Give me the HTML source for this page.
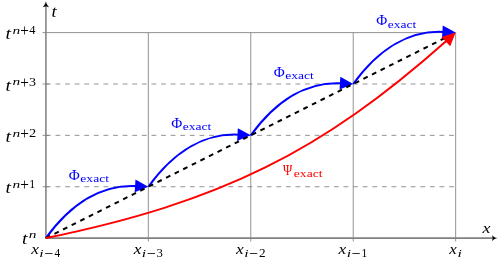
<!DOCTYPE html>
<html><head><meta charset="utf-8">
<style>
html,body{margin:0;padding:0;background:#fff;}
body{width:498px;height:264px;overflow:hidden;font-family:"Liberation Serif",serif;}
svg{display:block;will-change:transform;}
text{font-family:"Liberation Serif",serif;}
.i{font-style:italic;}
</style></head><body>
<svg width="498" height="264" viewBox="0 0 498 264">
<rect width="498" height="264" fill="#fff"/>
<g stroke="#808080" stroke-width="0.85" stroke-dasharray="4.8 4.8" fill="none">
<line x1="45.90" y1="186.72" x2="455.7" y2="186.72"/>
<line x1="45.90" y1="135.35" x2="455.7" y2="135.35"/>
<line x1="45.90" y1="83.97" x2="455.7" y2="83.97"/>
</g>
<g stroke="#808080" stroke-width="0.85" fill="none">
<line x1="42.50" y1="186.72" x2="48.90" y2="186.72"/>
<line x1="42.50" y1="135.35" x2="48.90" y2="135.35"/>
<line x1="42.50" y1="83.97" x2="48.90" y2="83.97"/>
</g>
<g stroke="#808080" stroke-width="0.85" fill="none">
<line x1="42.5" y1="32.60" x2="455.7" y2="32.60"/>
<line x1="148.34" y1="32.60" x2="148.34" y2="241.5"/>
<line x1="250.78" y1="32.60" x2="250.78" y2="241.5"/>
<line x1="353.22" y1="32.60" x2="353.22" y2="241.5"/>
<line x1="455.66" y1="32.60" x2="455.66" y2="241.5"/>
</g>
<g stroke="#808080" stroke-width="1.55" fill="none">
<line x1="45.9" y1="238.7" x2="45.9" y2="5"/>
<line x1="45.3" y1="238.1" x2="494" y2="238.1"/>
</g>
<path d="M45.9 1.6 C46.5 4 47.70 6 49.1 7.2 L45.9 6.2 L42.70 7.2 C44.1 6 45.3 4 45.9 1.6 Z" fill="#000"/>
<path d="M497.7 238.1 C495 237.5 493 236.30 491.8 234.9 L492.8 238.1 L491.8 241.30 C493 239.9 495 238.7 497.7 238.1 Z" fill="#000"/>
<g stroke="#0000ff" stroke-width="2" fill="none">
<path d="M45.90 238.10 C72.19 201.74 103.55 184.09 136.56 186.03"/>
<path d="M148.34 186.72 C174.63 150.37 205.99 132.72 239.00 134.66"/>
<path d="M250.78 135.35 C277.07 98.99 308.43 81.34 341.44 83.28"/>
<path d="M353.22 83.97 C379.51 47.62 410.87 29.97 443.88 31.91"/>
</g>
<path d="M148.34 186.72 L134.69 192.33 L135.44 179.56 Z" fill="#0000ff"/>
<path d="M250.78 135.35 L237.13 140.96 L237.88 128.18 Z" fill="#0000ff"/>
<path d="M353.22 83.97 L339.57 89.58 L340.32 76.81 Z" fill="#0000ff"/>
<path d="M455.66 32.60 L442.01 38.21 L442.76 25.43 Z" fill="#0000ff"/>
<line x1="45.9" y1="238.1" x2="447.7" y2="36.6" stroke="#000" stroke-width="2" stroke-dasharray="4.8 4.8"/>
<path d="M45.9 238.1 C221.68 201.91 321.53 151.83 446.84 40.44" stroke="#ff0000" stroke-width="2" fill="none"/>
<path d="M455.66 32.60 L450.21 46.32 L441.54 36.90 Z" fill="#ff0000"/>
<text fill="#000"><tspan x="51.49" y="17.30" font-size="16.9" font-style="italic" textLength="5.14" lengthAdjust="spacingAndGlyphs">t</tspan></text>
<text fill="#000"><tspan x="482.62" y="232.80" font-size="14.6" font-style="italic" textLength="8.01" lengthAdjust="spacingAndGlyphs">x</tspan></text>
<text fill="#000"><tspan x="5.63" y="193.32" font-size="16.9" font-style="italic" textLength="5.47" lengthAdjust="spacingAndGlyphs">t</tspan><tspan x="12.45" y="188.22" font-size="10.0" font-style="italic" textLength="7.69" lengthAdjust="spacingAndGlyphs">n</tspan><tspan x="20.14" y="190.40" font-size="16.5" textLength="8.60" lengthAdjust="spacingAndGlyphs">+</tspan><tspan x="29.35" y="188.32" font-size="11.6" textLength="5.97" lengthAdjust="spacingAndGlyphs">1</tspan></text>
<text fill="#000"><tspan x="5.63" y="141.95" font-size="16.9" font-style="italic" textLength="5.47" lengthAdjust="spacingAndGlyphs">t</tspan><tspan x="12.45" y="136.85" font-size="10.0" font-style="italic" textLength="7.69" lengthAdjust="spacingAndGlyphs">n</tspan><tspan x="20.14" y="139.03" font-size="16.5" textLength="8.60" lengthAdjust="spacingAndGlyphs">+</tspan><tspan x="28.96" y="136.95" font-size="11.6" textLength="7.23" lengthAdjust="spacingAndGlyphs">2</tspan></text>
<text fill="#000"><tspan x="5.63" y="90.57" font-size="16.9" font-style="italic" textLength="5.47" lengthAdjust="spacingAndGlyphs">t</tspan><tspan x="12.45" y="85.47" font-size="10.0" font-style="italic" textLength="7.69" lengthAdjust="spacingAndGlyphs">n</tspan><tspan x="20.14" y="87.65" font-size="16.5" textLength="8.60" lengthAdjust="spacingAndGlyphs">+</tspan><tspan x="28.93" y="85.57" font-size="11.6" textLength="7.02" lengthAdjust="spacingAndGlyphs">3</tspan></text>
<text fill="#000"><tspan x="5.63" y="39.20" font-size="16.9" font-style="italic" textLength="5.47" lengthAdjust="spacingAndGlyphs">t</tspan><tspan x="12.45" y="34.10" font-size="10.0" font-style="italic" textLength="7.69" lengthAdjust="spacingAndGlyphs">n</tspan><tspan x="20.14" y="36.28" font-size="16.5" textLength="8.60" lengthAdjust="spacingAndGlyphs">+</tspan><tspan x="29.36" y="34.20" font-size="11.6" textLength="6.24" lengthAdjust="spacingAndGlyphs">4</tspan></text>
<text fill="#000"><tspan x="22.03" y="243.50" font-size="16.9" font-style="italic" textLength="5.47" lengthAdjust="spacingAndGlyphs">t</tspan><tspan x="28.85" y="238.00" font-size="10.0" font-style="italic" textLength="7.69" lengthAdjust="spacingAndGlyphs">n</tspan></text>
<text fill="#000"><tspan x="31.21" y="253.70" font-size="14.6" font-style="italic" textLength="7.72" lengthAdjust="spacingAndGlyphs">x</tspan><tspan x="39.33" y="256.70" font-size="11.2" font-style="italic" textLength="4.34" lengthAdjust="spacingAndGlyphs">i</tspan><tspan x="44.21" y="258.88" font-size="16.5" textLength="8.97" lengthAdjust="spacingAndGlyphs">−</tspan><tspan x="54.38" y="256.70" font-size="11.6" textLength="5.70" lengthAdjust="spacingAndGlyphs">4</tspan></text>
<text fill="#000"><tspan x="133.65" y="253.70" font-size="14.6" font-style="italic" textLength="7.72" lengthAdjust="spacingAndGlyphs">x</tspan><tspan x="141.77" y="256.70" font-size="11.2" font-style="italic" textLength="4.34" lengthAdjust="spacingAndGlyphs">i</tspan><tspan x="146.65" y="258.88" font-size="16.5" textLength="8.97" lengthAdjust="spacingAndGlyphs">−</tspan><tspan x="156.43" y="256.70" font-size="11.6" textLength="6.42" lengthAdjust="spacingAndGlyphs">3</tspan></text>
<text fill="#000"><tspan x="236.09" y="253.70" font-size="14.6" font-style="italic" textLength="7.72" lengthAdjust="spacingAndGlyphs">x</tspan><tspan x="244.21" y="256.70" font-size="11.2" font-style="italic" textLength="4.34" lengthAdjust="spacingAndGlyphs">i</tspan><tspan x="249.09" y="258.88" font-size="16.5" textLength="8.97" lengthAdjust="spacingAndGlyphs">−</tspan><tspan x="258.90" y="256.70" font-size="11.6" textLength="6.61" lengthAdjust="spacingAndGlyphs">2</tspan></text>
<text fill="#000"><tspan x="338.53" y="253.70" font-size="14.6" font-style="italic" textLength="7.72" lengthAdjust="spacingAndGlyphs">x</tspan><tspan x="346.65" y="256.70" font-size="11.2" font-style="italic" textLength="4.34" lengthAdjust="spacingAndGlyphs">i</tspan><tspan x="351.53" y="258.88" font-size="16.5" textLength="8.97" lengthAdjust="spacingAndGlyphs">−</tspan><tspan x="361.50" y="256.70" font-size="11.6" textLength="5.82" lengthAdjust="spacingAndGlyphs">1</tspan></text>
<text fill="#000"><tspan x="449.37" y="253.70" font-size="14.6" font-style="italic" textLength="7.52" lengthAdjust="spacingAndGlyphs">x</tspan><tspan x="457.59" y="256.70" font-size="11.2" font-style="italic" textLength="4.34" lengthAdjust="spacingAndGlyphs">i</tspan></text>
<text fill="#0000ff"><tspan x="68.84" y="179.50" font-size="15.6" textLength="11.01" lengthAdjust="spacingAndGlyphs">Φ</tspan><tspan x="80.37" y="181.70" font-size="10.2" textLength="28.61" lengthAdjust="spacingAndGlyphs">exact</tspan></text>
<text fill="#0000ff"><tspan x="171.28" y="128.12" font-size="15.6" textLength="11.01" lengthAdjust="spacingAndGlyphs">Φ</tspan><tspan x="182.81" y="130.32" font-size="10.2" textLength="28.61" lengthAdjust="spacingAndGlyphs">exact</tspan></text>
<text fill="#0000ff"><tspan x="273.72" y="76.75" font-size="15.6" textLength="11.01" lengthAdjust="spacingAndGlyphs">Φ</tspan><tspan x="285.25" y="78.95" font-size="10.2" textLength="28.61" lengthAdjust="spacingAndGlyphs">exact</tspan></text>
<text fill="#0000ff"><tspan x="376.16" y="25.38" font-size="15.6" textLength="11.01" lengthAdjust="spacingAndGlyphs">Φ</tspan><tspan x="387.69" y="27.57" font-size="10.2" textLength="28.61" lengthAdjust="spacingAndGlyphs">exact</tspan></text>
<text fill="#ff0000"><tspan x="283.06" y="174.50" font-size="15.6" textLength="9.27" lengthAdjust="spacingAndGlyphs">Ψ</tspan><tspan x="293.87" y="176.80" font-size="10.2" textLength="28.61" lengthAdjust="spacingAndGlyphs">exact</tspan></text>
</svg>
</body></html>
